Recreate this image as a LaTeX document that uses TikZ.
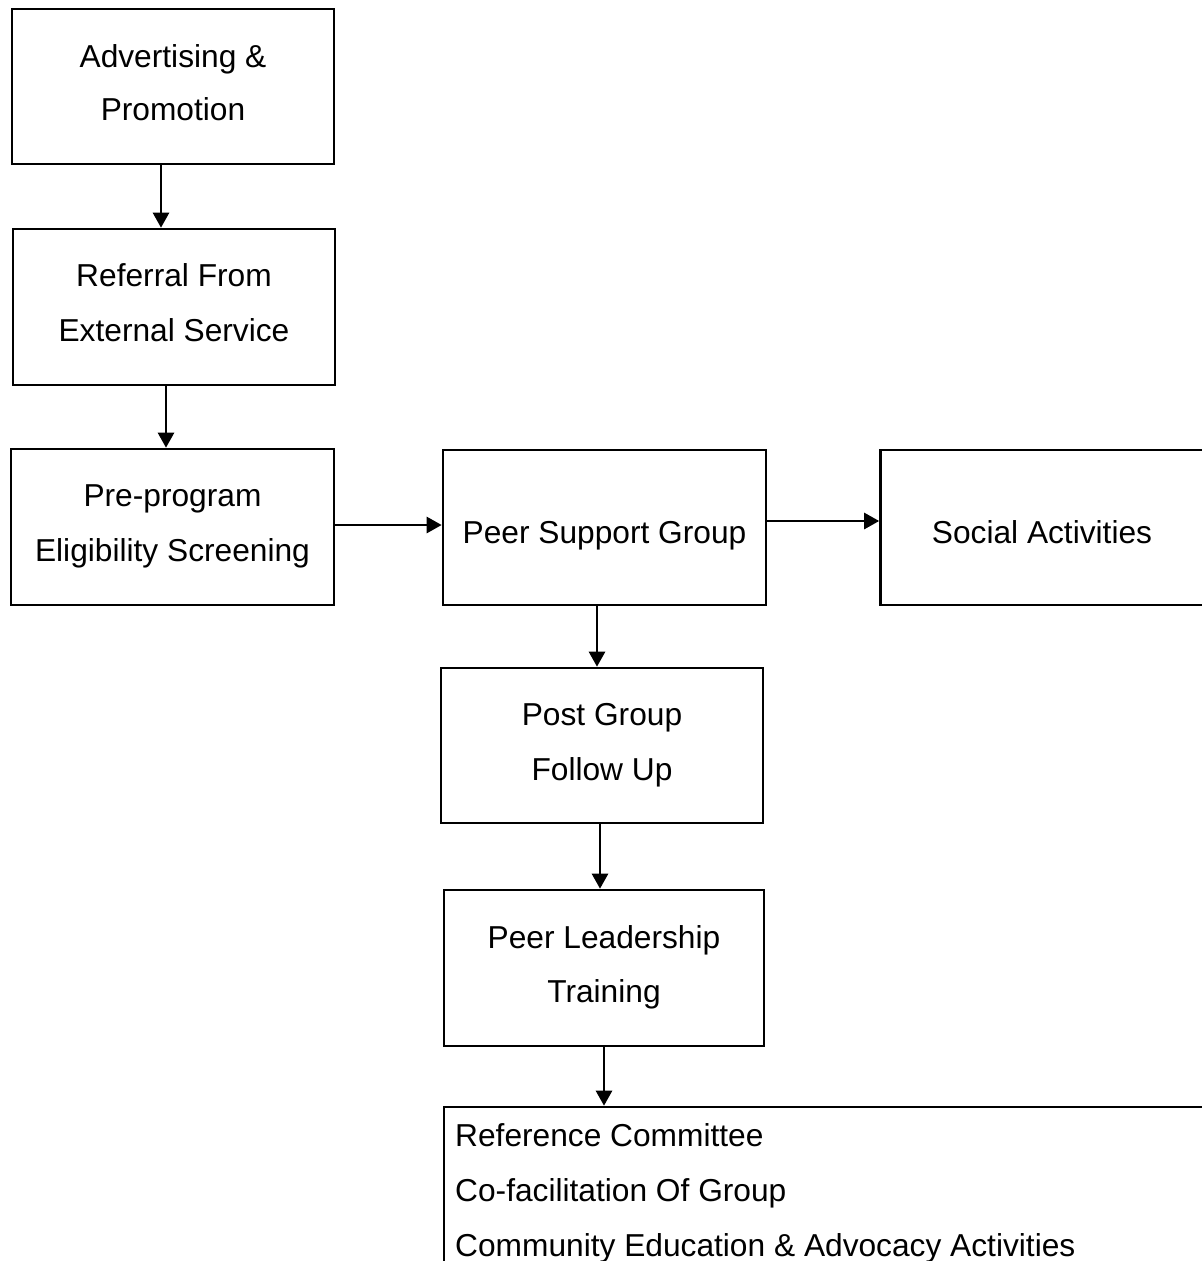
\documentclass[tikz,border=0pt]{standalone}
\usepackage{fontspec}
\setmainfont{Liberation Sans}
\usetikzlibrary{arrows.meta}
\begin{document}
\begin{tikzpicture}[x=1pt,y=-1pt,
  box/.style={draw=black, line width=2.6pt, rectangle, inner sep=0pt},
  lbl/.style={anchor=base, inner sep=0pt, font=\fontsize{31.7}{38}\selectfont},
  arr/.style={line width=2.6pt, -{Triangle[length=15pt,width=16pt]}},
  item/.style={anchor=base west, inner sep=0pt, font=\fontsize{31.7}{38}\selectfont}]
\useasboundingbox (0,0) rectangle (1202,1261);
\clip (0,0) rectangle (1202,1261);
\fill[white] (0,0) rectangle (1202,1261);
% boxes
\node[box, minimum width=322pt, minimum height=155pt] (adv) at (173,86.5) {};
\node[box, minimum width=322pt, minimum height=156pt] (ref) at (174,307) {};
\node[box, minimum width=323pt, minimum height=156pt] (pre) at (172.5,527) {};
\node[box, minimum width=323pt, minimum height=155pt] (psg) at (604.5,527.5) {};
\node[box, minimum width=323pt, minimum height=155pt] (soc) at (1042,527.5) {};
\node[box, minimum width=322pt, minimum height=155pt] (post) at (602,745.5) {};
\node[box, minimum width=320pt, minimum height=156pt] (plt) at (604,968) {};
\node[box, minimum width=770pt, minimum height=170pt] (out) at (829,1192) {};
% labels
\node[lbl] (adv1) at (173,67) {Advertising \&};
\node[lbl] (adv2) at (173,120) {Promotion};
\node[lbl] (ref1) at (174,286) {Referral From};
\node[lbl] (ref2) at (174,341) {External Service};
\node[lbl] (pre1) at (172.5,506) {Pre-program};
\node[lbl] (pre2) at (172.5,561) {Eligibility Screening};
\node[lbl] (psg1) at (604.5,543) {Peer Support Group};
\node[lbl] (soc1) at (1042,543) {Social Activities};
\node[lbl] (post1) at (602,725) {Post Group};
\node[lbl] (post2) at (602,780) {Follow Up};
\node[lbl] (plt1) at (604,948) {Peer Leadership};
\node[lbl] (plt2) at (604,1002) {Training};
\node[item] (r1) at (455,1146) {Reference Committee};
\node[item] (r2) at (455,1201) {Co-facilitation Of Group};
\node[item] (r3) at (455,1256) {Community Education \& Advocacy Activities};
% connectors
\draw[arr] ([xshift=-12pt]adv.south) -- ([xshift=-12pt]adv.south |- ref.north);
\draw[arr] ([xshift=-8pt]ref.south) -- ([xshift=-8pt]ref.south |- pre.north);
\draw[arr] ([yshift=2pt]pre.east) -- ([yshift=2pt]pre.east -| psg.west);
\draw[arr] ([yshift=6.5pt]psg.east) -- ([yshift=6.5pt]psg.east -| soc.west);
\draw[arr] ([xshift=-7.5pt]psg.south) -- ([xshift=-7.5pt]psg.south |- post.north);
\draw[arr] ([xshift=-2pt]post.south) -- ([xshift=-2pt]post.south |- plt.north);
\draw[arr] (plt.south) -- (plt.south |- out.north);
\end{tikzpicture}
\end{document}
